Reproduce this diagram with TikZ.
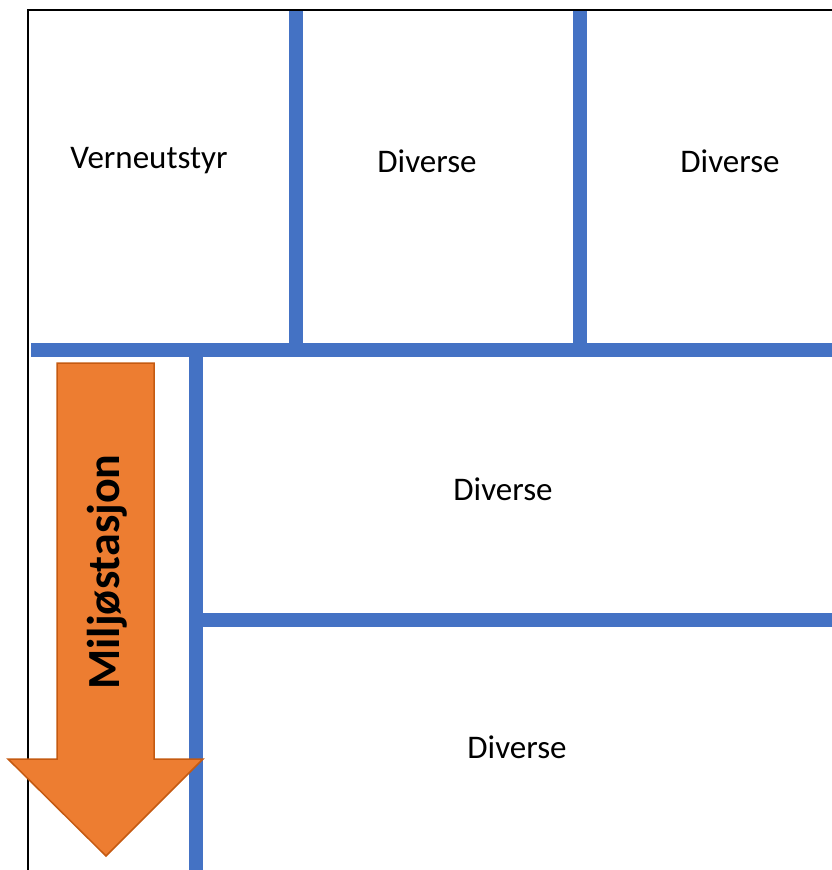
\documentclass[tikz,border=0pt]{standalone}
\usepackage{fontspec}
\setmainfont{Carlito}
\definecolor{wallblue}{HTML}{4472C4}
\definecolor{arroworange}{HTML}{ED7D31}
\definecolor{arrowedge}{HTML}{C55A11}
\tikzset{
  wall/.style={draw=wallblue, line width=14pt},
  room/.style={font=\fontsize{33}{38}\selectfont},
}
\begin{document}
\begin{tikzpicture}[x=1pt,y=-1pt]
    \useasboundingbox (0,0) rectangle (832,870);
    % outer frame
    \draw [line width=2pt] (27.5,870) -- (27.5,10) -- (832,10);
    % walls
    \draw [wall] (296,11) -- (296,350);
    \draw [wall] (580,11) -- (580,350);
    \draw [wall] (31,350) -- (832,350);
    \draw [wall] (196,350) -- (196,870);
    \draw [wall] (196,619.5) -- (832,619.5);
    % arrow
    \filldraw [fill=arroworange, draw=arrowedge, line width=1.5pt]
        (57,363) -- (154,363) -- (154,759) -- (203,759) -- (106,856)
        -- (8,759) -- (57,759) -- cycle;
    \node [rotate=90, font=\fontsize{46}{50}\bfseries\selectfont] (miljo) at (107,572) {Miljøstasjon};
    % rooms
    \node [room] (vern) at (149,161) {Verneutstyr};
    \node [room] (div1) at (427,161) {Diverse};
    \node [room] (div2) at (730,161) {Diverse};
    \node [room] (div3) at (503,489) {Diverse};
    \node [room] (div4) at (517,747) {Diverse};
\end{tikzpicture}
\end{document}
